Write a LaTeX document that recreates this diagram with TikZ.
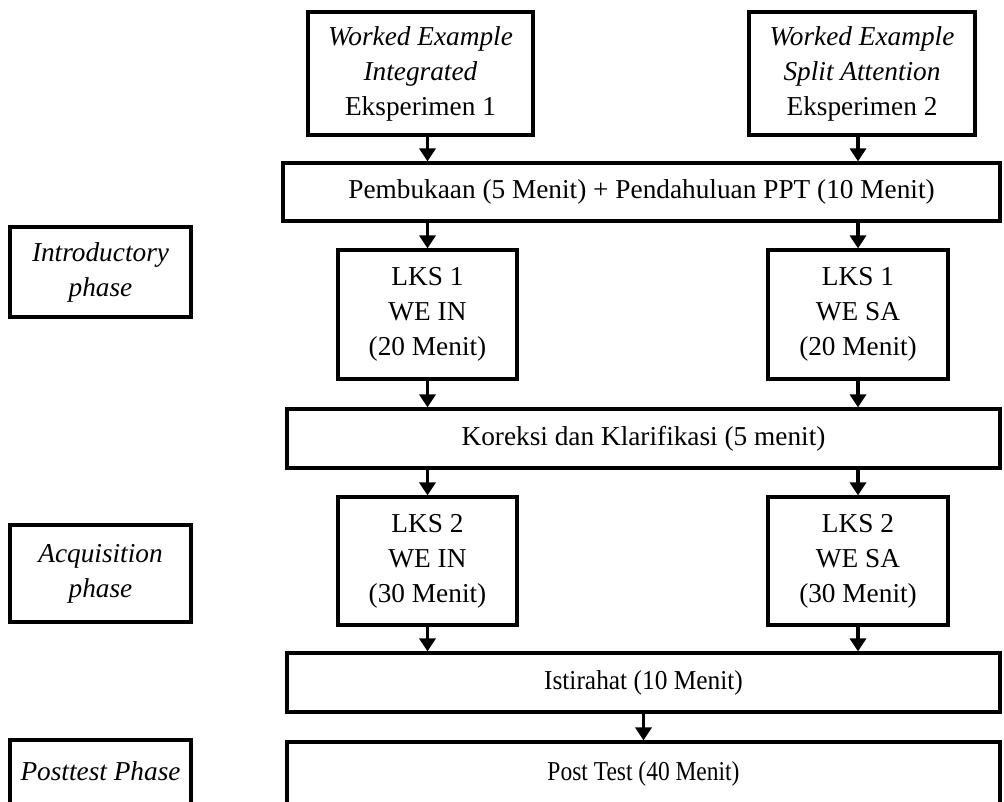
\documentclass[tikz,border=0pt]{standalone}
\usepackage{fontspec}
\setmainfont{Liberation Serif}
\usetikzlibrary{arrows.meta}
\begin{document}
\begin{tikzpicture}[x=1pt,y=-1pt,
  box/.style={draw,line width=3.2pt,inner sep=0pt,align=center,
    font=\fontsize{27.3}{35}\selectfont},
  arr/.style={line width=3.6pt,-{Triangle[width=16pt,length=13pt]}}]
\useasboundingbox (0,0) rectangle (1004,801);
\clip (0,0) rectangle (1004,801);
% top boxes
\node[box,minimum width=225pt,minimum height=123pt] (we1) at (420.5,73.5)
  {\textit{Worked Example}\\\textit{Integrated}\\Eksperimen 1};
\node[box,minimum width=226pt,minimum height=123pt] (we2) at (862,73.5)
  {\textit{Worked Example}\\\textit{Split Attention}\\Eksperimen 2};
\node[box,minimum width=717pt,minimum height=58pt] (buka) at (641.5,192)
  {Pembukaan (5 Menit) + Pendahuluan PPT (10 Menit)};
% phase 1
\node[box,minimum width=181pt,minimum height=90pt] (intro) at (100.5,272)
  {\textit{Introductory}\\\textit{phase}};
\node[box,minimum width=179pt,minimum height=129pt] (l1a) at (427.5,314.5)
  {LKS 1\\WE IN\\(20 Menit)};
\node[box,minimum width=180pt,minimum height=129pt] (l1b) at (858,314.5)
  {LKS 1\\WE SA\\(20 Menit)};
\node[box,minimum width=713pt,minimum height=59pt] (kor) at (643.5,438.5)
  {Koreksi dan Klarifikasi (5 menit)};
% phase 2
\node[box,minimum width=181pt,minimum height=97pt] (acq) at (100.5,573.5)
  {\textit{Acquisition}\\\textit{phase}};
\node[box,minimum width=179pt,minimum height=128pt] (l2a) at (427.5,561)
  {LKS 2\\WE IN\\(30 Menit)};
\node[box,minimum width=180pt,minimum height=128pt] (l2b) at (858,561)
  {LKS 2\\WE SA\\(30 Menit)};
\node[box,minimum width=713pt,minimum height=59pt] (ist) at (643.5,682.5)
  {\scalebox{0.93}[1]{Istirahat (10 Menit)}};
% post test (bottom edges run off the picture)
\node[box,minimum width=181pt,minimum height=80pt] (ptp) at (100.5,780)
  {\raisebox{18pt}{\textit{Posttest Phase}}};
\node[box,minimum width=713pt,minimum height=76pt] (post) at (643.5,780)
  {\raisebox{18pt}{\scalebox{0.86}[1]{Post Test (40 Menit)}}};
% arrows
\draw[arr] (we1.south -| l1a.north) -- (buka.north -| l1a.north);
\draw[arr] (we2.south -| l1b.north) -- (buka.north -| l1b.north);
\draw[arr] (buka.south -| l1a.north) -- (l1a.north);
\draw[arr] (buka.south -| l1b.north) -- (l1b.north);
\draw[arr] (l1a.south) -- (kor.north -| l1a.south);
\draw[arr] (l1b.south) -- (kor.north -| l1b.south);
\draw[arr] (kor.south -| l2a.north) -- (l2a.north);
\draw[arr] (kor.south -| l2b.north) -- (l2b.north);
\draw[arr] (l2a.south) -- (ist.north -| l2a.south);
\draw[arr] (l2b.south) -- (ist.north -| l2b.south);
\draw[arr] (ist.south) -- (post.north);
\end{tikzpicture}
\end{document}
